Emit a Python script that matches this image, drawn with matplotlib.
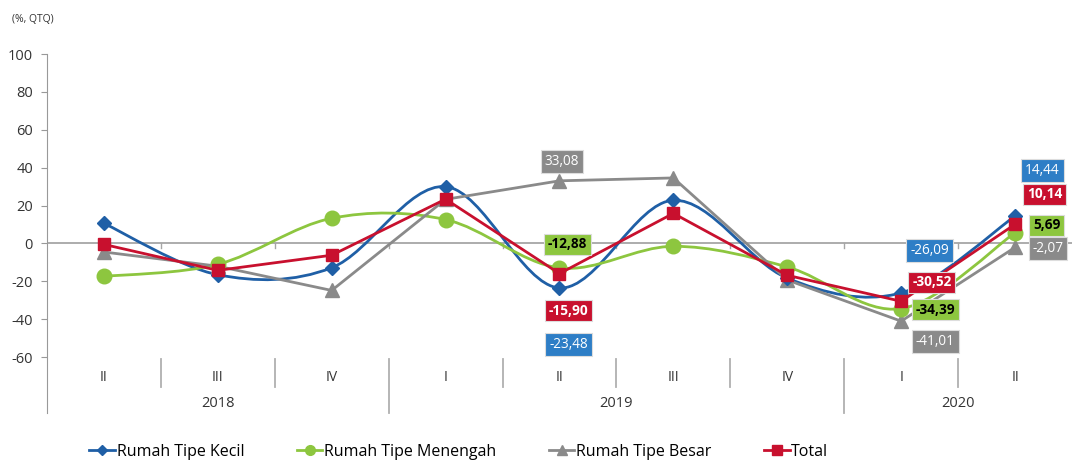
import matplotlib
matplotlib.use("Agg")
import matplotlib.pyplot as plt
from matplotlib.path import Path
from matplotlib.patches import PathPatch
from matplotlib.lines import Line2D

quarters = ["II", "III", "IV", "I", "II", "III", "IV", "I", "II"]
years = ["2018", "2019", "2020"]
year_spans = [(0, 2), (3, 6), (7, 8)]

kecil = [10.6, -16.5, -12.8, 30.0, -23.48, 22.8, -18.3, -26.09, 14.44]
menengah = [-17.4, -11.0, 13.3, 12.6, -12.88, -1.5, -12.4, -34.39, 5.69]
besar = [-4.5, -12.0, -24.8, 23.3, 33.08, 34.6, -19.3, -41.01, -2.07]
total = [-0.5, -14.2, -6.2, 23.4, -15.90, 15.9, -16.8, -30.52, 10.14]

BLUE = "#1F5FA6"
BLUE_BOX = "#2E7EC6"
GREEN = "#8DC63F"
GREY = "#8A8A8A"
RED = "#C8102E"

# (box colour, text colour, bold, label x, label y, value)
labels = [
    (GREY, "white", False, 4.02, 43.4, besar[4]),
    (GREEN, "black", True, 4.07, -0.5, menengah[4]),
    (RED, "white", True, 4.08, -35.4, total[4]),
    (BLUE_BOX, "white", False, 4.08, -53.4, kecil[4]),
    (BLUE_BOX, "white", False, 7.25, -3.7, kecil[7]),
    (RED, "white", True, 7.27, -20.6, total[7]),
    (GREEN, "black", True, 7.30, -34.9, menengah[7]),
    (GREY, "white", False, 7.30, -51.9, besar[7]),
    (BLUE_BOX, "white", False, 8.24, 38.6, kecil[8]),
    (RED, "white", True, 8.26, 25.9, total[8]),
    (GREEN, "black", True, 8.28, 9.5, menengah[8]),
    (GREY, "white", False, 8.29, -2.6, besar[8]),
]


def smooth_patch(xs, ys, color):
    # Excel-style smoothed line: cubic bezier segments through the points
    verts = [(xs[0], ys[0])]
    codes = [Path.MOVETO]
    n = len(xs)
    for i in range(n - 1):
        p0 = (xs[max(i - 1, 0)], ys[max(i - 1, 0)])
        p1 = (xs[i], ys[i])
        p2 = (xs[i + 1], ys[i + 1])
        p3 = (xs[min(i + 2, n - 1)], ys[min(i + 2, n - 1)])
        c1 = (p1[0] + (p2[0] - p0[0]) / 6, p1[1] + (p2[1] - p0[1]) / 6)
        c2 = (p2[0] - (p3[0] - p1[0]) / 6, p2[1] - (p3[1] - p1[1]) / 6)
        verts += [c1, c2, p2]
        codes += [Path.CURVE4] * 3
    return PathPatch(Path(verts, codes), facecolor="none", edgecolor=color, lw=2.0, zorder=3)


plt.rcParams["font.family"] = ["Open Sans", "DejaVu Sans"]
plt.rcParams["axes.unicode_minus"] = False
fig = plt.figure(figsize=(10.72, 4.62), dpi=100)
ax = fig.add_axes([0.0438, 0.227, 0.9562, 0.656])
x = list(range(len(quarters)))

ax.add_patch(smooth_patch(x, kecil, BLUE))
ax.plot(x, kecil, ls="none", marker="D", ms=7.5, color=BLUE, zorder=5)
ax.add_patch(smooth_patch(x, menengah, GREEN))
ax.plot(x, menengah, ls="none", marker="o", ms=10.5, color=GREEN, zorder=4)
ax.plot(x, besar, color=GREY, lw=2.0, marker="^", ms=10.5, zorder=3)
ax.plot(x, total, color=RED, lw=2.0, marker="s", ms=8.5, zorder=5)

for box, tc, bold, lx, ly, val in labels:
    ax.text(lx, ly, f"{val:.2f}".replace(".", ","), ha="center", va="center",
            fontsize=9.8, color=tc, fontweight="bold" if bold else "normal", zorder=7,
            bbox=dict(boxstyle="square,pad=0.28", facecolor=box, edgecolor="#dddddd", lw=0.8))

ax.set_xlim(-0.5, 8.5)
ax.set_ylim(-60, 100)
ax.set_yticks(range(-60, 101, 20))
ax.tick_params(axis="y", length=4, color="#999999", labelsize=10.5, labelcolor="#333333", pad=6)
ax.set_xticks([])
for s in ["top", "right", "bottom"]:
    ax.spines[s].set_visible(False)
ax.spines["left"].set_color("#999999")
ax.spines["left"].set_bounds(-89.5, 100)
ax.axhline(0, color="#a6a6a6", lw=1.3, zorder=1)

# category axis below the plot
for b in range(1, len(quarters)):
    ax.plot([b - 0.5, b - 0.5], [0, -2.5], color="#a6a6a6", lw=1.0, clip_on=False)
    bottom = -89.5 if b in (3, 7) else -75.7
    ax.plot([b - 0.5, b - 0.5], [-60.8, bottom], color="#b0b0b0", lw=1.3, clip_on=False)
for i, q in enumerate(quarters):
    ax.text(i, -70.8, q, ha="center", va="center", fontsize=10, color="#333333", clip_on=False)
for yr, (a, b) in zip(years, year_spans):
    ax.text((a + b) / 2, -84.6, yr, ha="center", va="center", fontsize=10.5, color="#333333", clip_on=False)

fig.text(0.011, 0.957, "(%, QTQ)", fontsize=7.5, color="#333333", ha="left", va="center")

handles = [
    Line2D([], [], color=BLUE, lw=2, marker="D", ms=5.5),
    Line2D([], [], color=GREEN, lw=2, marker="o", ms=7),
    Line2D([], [], color=GREY, lw=2, marker="^", ms=7),
    Line2D([], [], color=RED, lw=2, marker="s", ms=6.5),
]
names = ["Rumah Tipe Kecil", "Rumah Tipe Menengah", "Rumah Tipe Besar", "Total"]
fig.legend(handles, names, loc="center left", bbox_to_anchor=(0.07, 0.022), ncol=4,
           frameon=False, handlelength=1.6, handletextpad=0.1, columnspacing=3.3,
           prop={"size": 11.5})

fig.savefig("out.png", dpi=100)
